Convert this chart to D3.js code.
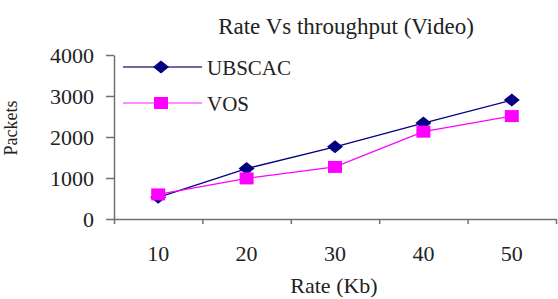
<!DOCTYPE html>
<meta charset="utf-8">
<style>
    body { margin: 0; background: #fff; }
    text { font-family: "Liberation Serif", "Times New Roman", serif; fill: #222; }
    .axis path, .axis line { stroke: #707070; stroke-width: 1.5px; }
    .axis text { font-size: 22px; fill: #222; }
</style>
<svg width="558" height="299"></svg>
<script src="https://cdnjs.cloudflare.com/ajax/libs/d3/7.8.5/d3.min.js"></script>
<script>
    // data
    var rates = ["10", "20", "30", "40", "50"];
    var ubscac = [530, 1230, 1760, 2340, 2900];
    var vos = [600, 990, 1270, 2130, 2510];
    var yTicks = [0, 1000, 2000, 3000, 4000];

    var svg = d3.select("svg");

    var plotLeft = 114, plotRight = 556, plotTop = 55, plotBottom = 219;

    var x = d3.scaleBand().domain(rates).range([plotLeft, plotRight]);
    var xEdge = d3.scaleLinear().domain([0, rates.length]).range([plotLeft, plotRight]);
    var y = d3.scaleLinear().domain([0, 4000]).range([plotBottom, plotTop]);

    // y axis
    svg.append("g")
        .attr("class", "axis")
        .attr("transform", "translate(" + plotLeft + ",0)")
        .call(d3.axisLeft(y).tickValues(yTicks).tickFormat(d3.format("d"))
            .tickSize(8).tickSizeOuter(0).tickPadding(12));

    // x axis: tick marks between categories
    svg.append("g")
        .attr("class", "axis")
        .attr("transform", "translate(0," + plotBottom + ")")
        .call(d3.axisBottom(xEdge).tickValues(d3.range(rates.length + 1)).tickFormat("").tickSize(5).tickSizeOuter(0));

    // x labels centred on categories
    var xl = svg.append("g")
        .attr("class", "axis")
        .attr("transform", "translate(0," + plotBottom + ")")
        .call(d3.axisBottom(x).tickSize(0).tickPadding(26));
    xl.select(".domain").remove();

    function cx(d, i) { return x(rates[i]) + x.bandwidth() / 2; }

    var diamond = "M0,-6.5L8,0L0,6.5L-8,0Z";
    var square = "M-7,-6H7V6H-7Z";

    function series(vals, color, width, shape) {
        var line = d3.line().x(cx).y(function (d) { return y(d); });
        svg.append("path")
            .datum(vals)
            .attr("d", line)
            .attr("fill", "none")
            .attr("stroke", color)
            .attr("stroke-width", width);
        svg.append("g").selectAll("path")
            .data(vals)
            .enter()
            .append("path")
            .attr("d", shape)
            .attr("fill", color)
            .attr("transform", function (d, i) { return "translate(" + cx(d, i) + "," + y(d) + ")"; });
    }

    series(ubscac, "#000080", 1.3, diamond);
    series(vos, "#ff00ff", 1.3, square);

    // legend
    var legend = [
        {name: "UBSCAC", color: "#000080", line: "#3a3a8a", shape: diamond, y: 67},
        {name: "VOS", color: "#ff00ff", line: "#ff66ff", shape: square, y: 103}
    ];
    var lg = svg.append("g").selectAll("g").data(legend).enter().append("g");
    lg.append("line")
        .attr("x1", 123).attr("x2", 202)
        .attr("y1", function (d) { return d.y; }).attr("y2", function (d) { return d.y; })
        .attr("stroke", function (d) { return d.line; })
        .attr("stroke-width", 1.5);
    lg.append("path")
        .attr("d", function (d) { return d.shape; })
        .attr("fill", function (d) { return d.color; })
        .attr("transform", function (d) { return "translate(161," + d.y + ")"; });
    lg.append("text")
        .attr("x", 207)
        .attr("y", function (d) { return d.y + 8; })
        .style("font-size", "21px")
        .text(function (d) { return d.name; });

    // title and axis titles
    svg.append("text")
        .attr("x", 346).attr("y", 34)
        .attr("text-anchor", "middle")
        .style("font-size", "23px")
        .text("Rate Vs throughput (Video)");

    svg.append("text")
        .attr("x", 334).attr("y", 293)
        .attr("text-anchor", "middle")
        .style("font-size", "22px")
        .text("Rate (Kb)");

    svg.append("text")
        .attr("transform", "translate(17,128) rotate(-90)")
        .attr("text-anchor", "middle")
        .style("font-size", "18px")
        .text("Packets");
</script>
